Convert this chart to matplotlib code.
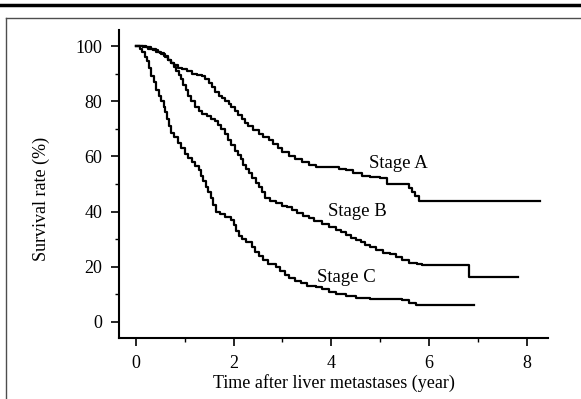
import matplotlib
matplotlib.use("Agg")
import matplotlib.pyplot as plt
from matplotlib.lines import Line2D
from matplotlib.ticker import MultipleLocator

# Kaplan-Meier style survival curves
stage_a_t = [0, 0.15, 0.25, 0.35, 0.45, 0.52, 0.6, 0.66, 0.72, 0.78, 0.85, 0.95,
             1.05, 1.15, 1.25, 1.35, 1.42, 1.5, 1.56, 1.62, 1.69, 1.76, 1.82,
             1.9, 1.95, 2.02, 2.08, 2.16, 2.23, 2.3, 2.4, 2.51, 2.6, 2.72, 2.8,
             2.9, 3.0, 3.13, 3.25, 3.4, 3.55, 3.68, 3.9, 4.16, 4.3, 4.45, 4.63,
             4.8, 5.0, 5.14, 5.6, 5.66, 5.72, 5.8, 8.27]
stage_a_s = [100, 99.5, 99, 98.5, 98, 97, 96, 95, 94, 93, 92, 91.5,
             91, 90, 89.5, 89, 88, 86.5, 85, 83.5, 82, 81, 80,
             79, 78, 76.5, 75, 73.5, 72, 71, 69.5, 68, 67, 66, 64.5,
             63, 61.5, 60, 59, 58, 57, 56, 56, 55.5, 55, 54, 53,
             52.5, 52, 50, 48.5, 47, 45.5, 44, 44]

stage_b_t = [0, 0.2, 0.3, 0.4, 0.5, 0.58, 0.66, 0.72, 0.77, 0.82, 0.87, 0.92,
             0.97, 1.02, 1.07, 1.13, 1.2, 1.28, 1.36, 1.45, 1.54, 1.62, 1.68,
             1.75, 1.82, 1.88, 1.95, 2.02, 2.08, 2.14, 2.2, 2.26, 2.32, 2.38,
             2.45, 2.51, 2.58, 2.65, 2.75, 2.86, 3.0, 3.1, 3.19, 3.3, 3.42,
             3.54, 3.65, 3.8, 3.95, 4.09, 4.2, 4.3, 4.4, 4.5, 4.6, 4.7, 4.8,
             4.92, 5.05, 5.2, 5.33, 5.45, 5.6, 5.75, 5.86, 6.83, 7.82]
stage_b_s = [100, 99.5, 99, 98, 97.5, 96.5, 95, 94, 92.5, 91, 89.5, 88,
             86, 84, 82, 80, 78, 76.5, 75.5, 74.5, 73.5, 73, 71.5,
             70, 68, 66, 64, 62, 60.5, 59, 57, 55.5, 54, 52,
             50.5, 49, 47, 45, 44, 43, 42, 41.5, 40.5, 39.5, 38.5,
             37.5, 36.5, 35.5, 34.5, 33.5, 32.5, 31.5, 30.5, 29.7, 29, 28, 27,
             26, 25, 24.5, 23.6, 22.5, 21.5, 21, 20.6, 16.3, 16.3]

stage_c_t = [0, 0.08, 0.13, 0.18, 0.22, 0.26, 0.31, 0.36, 0.41, 0.46, 0.52, 0.57,
             0.6, 0.64, 0.68, 0.72, 0.78, 0.85, 0.92, 1.0, 1.07, 1.14, 1.21,
             1.28, 1.33, 1.38, 1.43, 1.48, 1.53, 1.58, 1.63, 1.72, 1.82, 1.95,
             2.0, 2.05, 2.1, 2.18, 2.26, 2.37, 2.44, 2.51, 2.6, 2.7, 2.86, 2.95,
             3.05, 3.13, 3.25, 3.38, 3.5, 3.68, 3.8, 3.95, 4.09, 4.3, 4.5, 4.8,
             5.1, 5.45, 5.6, 5.74, 6.93]
stage_c_s = [100, 99, 98, 96, 94.5, 92, 89, 87, 84, 82, 80, 78,
             76, 73.5, 71, 68.5, 67, 65, 63, 61, 59.5, 58, 56.5,
             55, 53, 51, 49, 47, 45, 42.5, 40, 39, 38, 37,
             35, 33, 31, 30, 29, 27, 25.5, 24, 22.5, 21, 20, 18.5,
             17, 16, 15, 14, 13, 12.5, 12, 11, 10, 9.5, 8.7, 8.5,
             8.3, 8, 7, 6, 6]

labels = ["Stage A", "Stage B", "Stage C"]
label_pos = [(5.37, 57.5), (4.53, 40), (4.3, 16)]

plt.rcParams['font.family'] = ['Liberation Serif', 'DejaVu Serif']

fig = plt.figure(figsize=(5.81, 3.99), dpi=100)
ax = fig.add_axes([119 / 581, 1 - 338 / 399, 429 / 581, 308 / 399])

for t, s in [(stage_a_t, stage_a_s), (stage_b_t, stage_b_s), (stage_c_t, stage_c_s)]:
    ax.plot(t, s, drawstyle='steps-post', color='black', lw=1.6)

for lab, (x, y) in zip(labels, label_pos):
    ax.text(x, y, lab, fontsize=13.5, ha='center', va='center')

ax.set_xlim(-0.35, 8.44)
ax.set_ylim(-5.8, 105.8)
ax.set_xticks([0, 2, 4, 6, 8])
ax.set_yticks([0, 20, 40, 60, 80, 100])
ax.xaxis.set_minor_locator(MultipleLocator(1))
ax.yaxis.set_minor_locator(MultipleLocator(10))
ax.tick_params(which='major', direction='out', length=6, width=1.2, labelsize=13, pad=6)
ax.tick_params(which='minor', direction='out', length=3, width=1)
ax.spines['top'].set_visible(False)
ax.spines['right'].set_visible(False)
ax.spines['left'].set_linewidth(1.5)
ax.spines['bottom'].set_linewidth(1.5)

ax.set_xlabel('Time after liver metastases (year)', fontsize=13)
ax.set_ylabel('Survival rate (%)', fontsize=13)
ax.xaxis.set_label_coords(0.5, -0.118)
ax.yaxis.set_label_coords(-0.16, 0.45)

# frame lines from the scanned page
fig.add_artist(Line2D([0, 1], [1 - 5 / 399] * 2, transform=fig.transFigure, color='black', lw=2.5))
fig.add_artist(Line2D([6 / 581, 1], [1 - 18 / 399] * 2, transform=fig.transFigure, color='0.3', lw=1))
fig.add_artist(Line2D([6 / 581] * 2, [0, 1 - 18 / 399], transform=fig.transFigure, color='0.3', lw=1))

fig.savefig('out.png', dpi=100)
